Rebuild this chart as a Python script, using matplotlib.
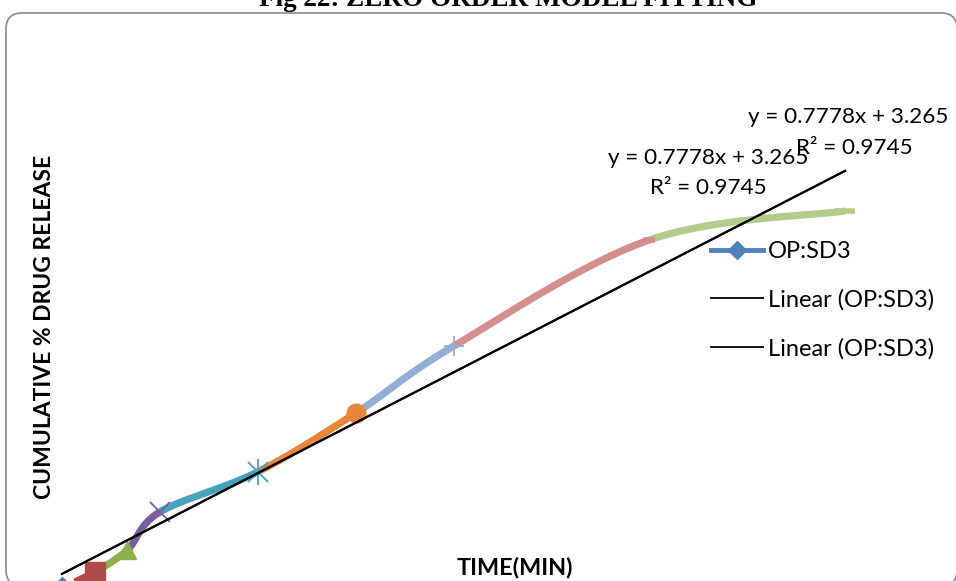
import numpy as np
import matplotlib.pyplot as plt
from matplotlib.patches import FancyBboxPatch
from matplotlib.lines import Line2D

# release profile, OP:SD3
time_min = [0, 5, 10, 15, 30, 45, 60, 90, 120]
release = [0.0, 3.7, 8.8, 17.6, 26.9, 40.5, 56.0, 80.6, 87.3]

# linear fit reported for the series
slope = 0.7778
intercept = 3.265
r_squared = 0.9745

# excel-style "vary colors by point"
point_colors = ['#4F81BD', '#B04A48', '#8FB04E', '#7A5FA0', '#46A3BC',
                '#E8873A', '#93ADD6', '#D48E8D', '#B3CC8C']
point_markers = ['D', 's', '^', 'x', '*', 'o', '+', '_', '_']

W, H = 956, 581


def smooth_segment(pts, i, n=30):
    # bezier between pts[i] and pts[i+1], catmull-rom style tangents
    p0 = pts[max(i - 1, 0)]
    p1 = pts[i]
    p2 = pts[i + 1]
    p3 = pts[min(i + 2, len(pts) - 1)]
    c1 = p1 + (p2 - p0) / 6.0
    c2 = p2 - (p3 - p1) / 6.0
    t = np.linspace(0, 1, n)[:, None]
    return ((1 - t) ** 3 * p1 + 3 * (1 - t) ** 2 * t * c1
            + 3 * (1 - t) * t ** 2 * c2 + t ** 3 * p2)


def py(y):
    # pixel row measured from the top -> overlay y
    return H - y


fig = plt.figure(figsize=(W / 100, H / 100), dpi=100)

ax = fig.add_axes([0, 0, 1, 1])
ax.set_xlim(-9.5, 137.0)
ax.set_ylim(1.62, 136.17)
ax.axis('off')

pts = np.column_stack([time_min, release]).astype(float)
for i in range(len(pts) - 1):
    seg = smooth_segment(pts, i)
    ax.plot(seg[:, 0], seg[:, 1], color=point_colors[i + 1], lw=5.2,
            solid_capstyle='butt', zorder=2)

for i, (x, y) in enumerate(pts):
    m = point_markers[i]
    c = point_colors[i]
    if m in ('x', '+'):
        ax.plot(x, y, marker=m, ms=14, mew=1.3, color=c, zorder=3)
    elif m == '*':
        # excel star: x with a vertical stroke
        ax.plot(x, y, marker='x', ms=14, mew=1.3, color=c, zorder=3)
        ax.plot(x, y, marker='|', ms=19, mew=1.3, color=c, zorder=3)
    elif m == '_':
        ms = 8 if i == 7 else 15
        ax.plot(x, y, marker='_', ms=ms, mew=4, color=c, zorder=3)
    else:
        size = {'D': 11, 's': 14.5, '^': 13, 'o': 13.5}[m]
        ax.plot(x, y, marker=m, ms=size, color=c, mec=c, zorder=3)

# two identical linear trendlines
xt = np.array([min(time_min), max(time_min)])
for k in range(2):
    ax.plot(xt, slope * xt + intercept, color='black', lw=1.5, zorder=4)

eq = 'y = %.4fx + %.3f' % (slope, intercept)
r2 = 'R² = %.4f' % r_squared
lbl_font = dict(family='Lato', fontsize=16.2, color='black')

# overlay in pixel units for frame, titles and labels
ov = fig.add_axes([0, 0, 1, 1], facecolor='none')
ov.set_xlim(0, W)
ov.set_ylim(0, H)
ov.axis('off')

frame = FancyBboxPatch((6, py(586)), 951, 586 - 13,
                       boxstyle='round,pad=0,rounding_size=16',
                       fc='none', ec='#8a8a8a', lw=1.2, clip_on=False)
ov.add_patch(frame)

ov.text(508, py(6), 'Fig 22: ZERO ORDER MODEL FITTING', family='Liberation Serif',
        fontweight='bold', fontsize=19.5, ha='center', va='baseline')

ov.text(848, py(117), eq, ha='center', va='center', **lbl_font)
ov.text(854, py(148), r2, ha='center', va='center', **lbl_font)
ov.text(708, py(158), eq, ha='center', va='center', **lbl_font)
ov.text(708, py(188), r2, ha='center', va='center', **lbl_font)

ov.text(45, py(327), 'CUMULATIVE % DRUG RELEASE', family='Lato', fontweight='bold',
        fontsize=16.5, rotation=90, ha='center', va='center')
ov.text(515, py(568), 'TIME(MIN)', family='Lato', fontweight='bold',
        fontsize=16.8, ha='center', va='center')

handles = [
    Line2D([], [], color=point_colors[0], lw=3.5, marker='D', ms=9),
    Line2D([], [], color='black', lw=1.3),
    Line2D([], [], color='black', lw=1.3),
]
labels = ['OP:SD3', 'Linear (OP:SD3)', 'Linear (OP:SD3)']
leg = ov.legend(handles, labels, loc='upper left',
                bbox_to_anchor=(711 / W, 1 - 241 / H),
                frameon=False, prop={'family': 'Lato', 'size': 17},
                handlelength=2.2, handletextpad=0.2, labelspacing=1.15,
                borderaxespad=0, borderpad=0)

fig.savefig('out.png', dpi=100)
